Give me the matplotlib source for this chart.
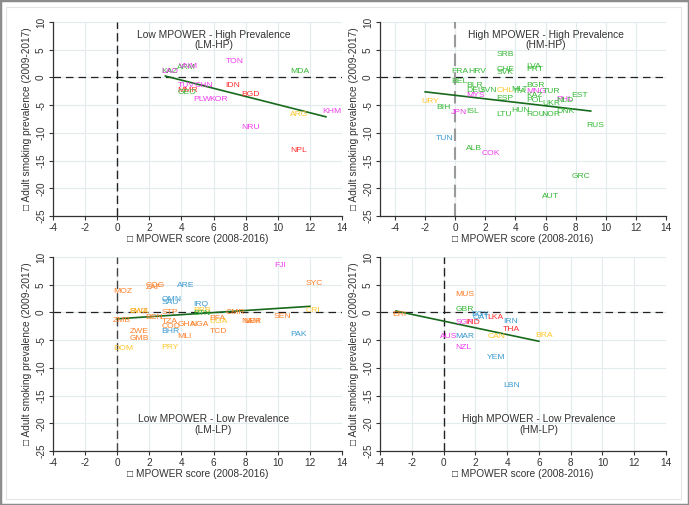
import matplotlib
matplotlib.use('Agg')
import matplotlib.pyplot as plt
from matplotlib.patches import Rectangle

plt.rcParams['font.family'] = ['Liberation Sans', 'DejaVu Sans']
plt.rcParams['axes.unicode_minus'] = False

region_colors = {
	'AFR': '#ff7f27',
	'AMR': '#ffc62a',
	'EMR': '#3a9ad0',
	'EUR': '#35b835',
	'SEAR': '#ff2a2a',
	'WPR': '#f03cf0',
}

# Low MPOWER - High Prevalence (LM-HP)
lmhp_codes = ['TON', 'KAZ', 'LAO', 'ARM', 'VNM', 'MDA', 'TUV', 'CHN', 'MMR', 'GEO',
	'IDN', 'BGD', 'PLW', 'KOR', 'ARG', 'KHM', 'NRU', 'NPL']
lmhp_x = [7.0, 3.0, 3.0, 4.0, 4.1, 11.0, 4.0, 5.1, 4.0, 4.0,
	7.0, 8.0, 5.0, 6.0, 11.0, 13.0, 8.0, 11.0]
lmhp_y = [2.8, 1.0, 1.0, 1.8, 2.0, 1.0, -1.5, -1.5, -2.3, -2.7,
	-1.5, -3.0, -4.0, -4.0, -6.6, -6.2, -9.1, -13.1]
lmhp_region = ['WPR', 'EUR', 'WPR', 'EUR', 'WPR', 'EUR', 'WPR', 'WPR', 'SEAR', 'EUR',
	'SEAR', 'SEAR', 'WPR', 'WPR', 'AMR', 'WPR', 'WPR', 'SEAR']
lmhp_fit = (-0.735, 2.45)  # slope, intercept

# High MPOWER - High Prevalence (HM-HP)
hmhp_codes = ['SRB', 'FRA', 'HRV', 'CHE', 'SVK', 'LVA', 'PRT', 'BEL', 'BGR', 'BLR',
	'DEU', 'SVN', 'MYS', 'CHL', 'MLT', 'ITA', 'MNG', 'KAZ', 'TUR', 'ESP',
	'POL', 'UKR', 'PHL', 'NLD', 'EST', 'URY', 'BIH', 'JPN', 'ISL', 'LTU',
	'HUN', 'ROU', 'NOR', 'DNK', 'RUS', 'TUN', 'ALB', 'COK', 'GRC', 'AUT']
hmhp_x = [3.0, 0.0, 1.1, 3.0, 3.0, 5.0, 5.0, 0.0, 5.0, 1.0,
	1.0, 1.9, 1.0, 3.0, 4.0, 4.1, 5.0, 5.0, 6.1, 3.0,
	5.0, 6.05, 7.0, 7.0, 8.0, -2.0, -1.0, 0.0, 1.0, 3.0,
	4.0, 5.0, 6.0, 7.0, 9.0, -1.0, 1.0, 2.0, 8.0, 6.0]
hmhp_y = [4.2, 1.0, 1.0, 1.5, 0.85, 2.05, 1.45, -0.65, -1.4, -1.4,
	-2.3, -2.3, -3.3, -2.3, -2.15, -2.6, -2.45, -3.2, -2.45, -3.8,
	-4.25, -4.7, -3.95, -4.1, -3.2, -4.4, -5.5, -6.4, -6.2, -6.6,
	-6.0, -6.6, -6.6, -6.1, -8.7, -11.1, -12.8, -13.7, -17.8, -21.5]
hmhp_region = ['EUR', 'EUR', 'EUR', 'EUR', 'EUR', 'EUR', 'EUR', 'EUR', 'EUR', 'EUR',
	'EUR', 'EUR', 'WPR', 'AMR', 'EUR', 'EUR', 'WPR', 'EUR', 'EUR', 'EUR',
	'EUR', 'EUR', 'WPR', 'EUR', 'EUR', 'AMR', 'EUR', 'WPR', 'EUR', 'EUR',
	'EUR', 'EUR', 'EUR', 'EUR', 'EUR', 'EMR', 'EUR', 'WPR', 'EUR', 'EUR']
hmhp_fit = (-0.315, -3.23)

# Low MPOWER - Low Prevalence (LM-LP)
lmlp_codes = ['FJI', 'SYC', 'MOZ', 'COG', 'ZAF', 'ARE', 'OMN', 'SAU', 'IRQ', 'BRB',
	'BTN', 'SWZ', 'BWA', 'STP', 'CMR', 'CRI', 'ZMB', 'BEN', 'TZA', 'BFA',
	'UGA', 'NGA', 'GHA', 'COD', 'NAM', 'NER', 'SEN', 'ZWE', 'GMB', 'BHR',
	'MLI', 'TCD', 'PAK', 'DOM', 'PRY']
lmlp_x = [10.0, 12.0, 0.0, 2.0, 2.0, 4.0, 3.0, 3.0, 5.0, 5.0,
	5.0, 1.0, 1.0, 3.0, 7.0, 12.0, 0.0, 2.0, 3.0, 6.0,
	6.0, 4.8, 4.0, 3.0, 8.0, 8.1, 10.0, 1.0, 1.0, 3.0,
	4.0, 6.0, 11.0, 0.0, 3.0]
lmlp_y = [8.5, 5.3, 3.8, 4.9, 4.45, 4.9, 2.3, 1.75, 1.4, 0.35,
	-0.25, 0.2, 0.2, 0.05, 0.05, 0.35, -1.45, -0.95, -1.55, -1.15,
	-1.6, -2.2, -2.2, -2.5, -1.55, -1.6, -0.65, -3.4, -4.75, -3.4,
	-4.4, -3.4, -4.0, -6.55, -6.25]
lmlp_region = ['WPR', 'AFR', 'AFR', 'AFR', 'AFR', 'EMR', 'EMR', 'EMR', 'EMR', 'AMR',
	'EUR', 'AFR', 'AMR', 'AFR', 'AFR', 'AMR', 'AFR', 'AFR', 'AFR', 'AFR',
	'AMR', 'AFR', 'AFR', 'AFR', 'AFR', 'AFR', 'AFR', 'AFR', 'AFR', 'EMR',
	'AFR', 'AFR', 'EMR', 'AMR', 'AMR']
lmlp_fit = (0.1875, -1.15)

# High MPOWER - Low Prevalence (HM-LP)
hmlp_codes = ['MUS', 'GBR', 'ERI', 'EGY', 'QAT', 'LKA', 'SGP', 'IND', 'IRN', 'THA',
	'AUS', 'MAR', 'CAN', 'BRA', 'NZL', 'YEM', 'LBN']
hmlp_x = [1.0, 1.0, -3.0, 2.0, 2.1, 3.0, 1.0, 1.6, 4.0, 4.0,
	0.0, 1.0, 3.0, 6.0, 1.0, 3.0, 4.0]
hmlp_y = [3.2, 0.55, -0.4, -0.4, -0.85, -0.85, -1.75, -1.75, -1.55, -3.05,
	-4.3, -4.3, -4.3, -4.1, -6.4, -8.05, -13.2]
hmlp_region = ['AFR', 'EUR', 'AFR', 'EMR', 'EMR', 'SEAR', 'WPR', 'SEAR', 'EMR', 'SEAR',
	'WPR', 'EMR', 'AMR', 'AMR', 'WPR', 'EMR', 'EMR']
hmlp_fit = (-0.607, -1.56)

x_ticks = [-4, -2, 0, 2, 4, 6, 8, 10, 12, 14]
y_ticks = [-25, -20, -15, -10, -5, 0, 5, 10]


def draw_panel(ax, codes, xs, ys, regions, fit, title, xlim, vcolor='#222222', vlw=1.0):
	ax.set_xlim(xlim)
	ax.set_ylim(-25, 10)
	ax.set_xticks(x_ticks)
	ax.set_yticks(y_ticks)
	ax.grid(True, color='#e2ecef', lw=0.8)
	ax.set_axisbelow(True)
	for s in ['top', 'right']:
		ax.spines[s].set_visible(False)
	for s in ['left', 'bottom']:
		ax.spines[s].set_color('#333333')
		ax.spines[s].set_linewidth(0.9)
	ax.tick_params(labelsize=7.2, colors='#333333', length=3, width=0.8, pad=2)
	plt.setp(ax.get_yticklabels(), rotation=90, va='center')
	ax.axhline(0, color='#222222', ls=(0, (6, 4)), lw=0.9)
	ax.axvline(0, color=vcolor, ls=(0, (6, 3)), lw=vlw)

	for c, x, y, r in zip(codes, xs, ys, regions):
		ax.annotate(c, (x, y), xytext=(-4, 0), textcoords='offset pixels',
			ha='left', va='center', fontsize=6.1, color=region_colors[r])

	x0, x1 = min(xs), max(xs)
	ax.plot([x0, x1], [fit[0] * x0 + fit[1], fit[0] * x1 + fit[1]], color='#17691b', lw=1.2)

	ax.text(6, title[1], title[0], ha='center', va='center', fontsize=7.4,
		color='#333333', linespacing=1.05)
	ax.set_xlabel('\u25a1 MPOWER score (2008-2016)', fontsize=7.3, color='#333333', labelpad=1)
	ax.set_ylabel('\u25a1 Adult smoking prevalence (2009-2017)', fontsize=7.3, color='#333333', labelpad=3)


fig = plt.figure(figsize=(6.89, 5.05), dpi=100)
fig.patches.append(Rectangle((0, 0), 1, 1, transform=fig.transFigure, fill=False,
	edgecolor='#8c8c8c', lw=2.5))
fig.patches.append(Rectangle((6 / 689, 6 / 505), 675 / 689, 492 / 505, transform=fig.transFigure,
	fill=False, edgecolor='#e4e4e4', lw=0.8))

ax_tl = fig.add_axes([53 / 689, 1 - 216 / 505, 289 / 689, 194 / 505])
ax_tr = fig.add_axes([380 / 689, 1 - 216 / 505, 286 / 689, 194 / 505])
ax_bl = fig.add_axes([53 / 689, 1 - 451 / 505, 289 / 689, 194 / 505])
ax_br = fig.add_axes([380 / 689, 1 - 451 / 505, 286 / 689, 194 / 505])

draw_panel(ax_tl, lmhp_codes, lmhp_x, lmhp_y, lmhp_region, lmhp_fit,
	('Low MPOWER - High Prevalence\n(LM-HP)', 6.8), (-4, 14))
draw_panel(ax_tr, hmhp_codes, hmhp_x, hmhp_y, hmhp_region, hmhp_fit,
	('High MPOWER - High Prevalence\n(HM-HP)', 6.8), (-5, 14), vcolor='#9a9a9a', vlw=1.5)
draw_panel(ax_bl, lmlp_codes, lmlp_x, lmlp_y, lmlp_region, lmlp_fit,
	('Low MPOWER - Low Prevalence\n(LM-LP)', -20.2), (-4, 14), vcolor='#444444')
draw_panel(ax_br, hmlp_codes, hmlp_x, hmlp_y, hmlp_region, hmlp_fit,
	('High MPOWER - Low Prevalence\n(HM-LP)', -20.2), (-4, 14))

fig.savefig('out.png', dpi=100)
